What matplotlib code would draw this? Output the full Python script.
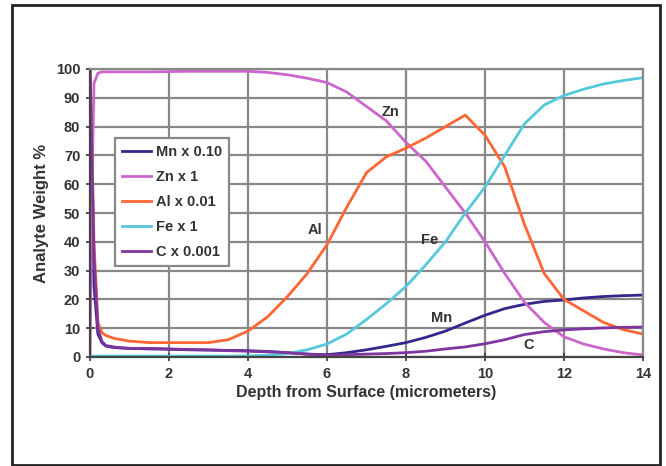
import numpy as np
import matplotlib
matplotlib.use('Agg')
import matplotlib.pyplot as plt
from matplotlib.patches import Rectangle

plt.rcParams['font.family'] = ['Liberation Sans', 'DejaVu Sans']
plt.rcParams['font.weight'] = 'bold'

# depth (micrometers)
depth = [0, 0.05, 0.1, 0.2, 0.3, 0.4, 0.6, 0.8, 1, 1.5, 2, 2.5, 3, 3.5, 4,
         4.5, 5, 5.5, 6, 6.5, 7, 7.5, 8, 8.5, 9, 9.5, 10, 10.5, 11, 11.5,
         12, 12.5, 13, 13.5, 14]

mn = [100, 60, 25, 8, 5, 3.8, 3.3, 3.1, 3, 2.8, 2.7, 2.5, 2.4, 2.3, 2.2,
      1.9, 1.5, 1, 0.8, 1.5, 2.5, 3.7, 5, 6.8, 9, 11.8, 14.5, 16.8, 18.3, 19.3,
      19.8, 20.5, 21, 21.3, 21.5]
zn = [0, 60, 95, 98.5, 99, 99, 99, 99, 99, 99, 99.1, 99.2, 99.2, 99.2, 99.2,
      98.8, 98, 96.8, 95.3, 92, 87, 82, 74.5, 68, 59, 50, 40, 29, 19, 12,
      7, 4.5, 2.8, 1.5, 0.7]
al = [100, 70, 40, 12, 8.5, 7.5, 6.5, 6, 5.5, 5, 5, 5, 5, 6, 9,
      14, 21, 29, 39, 52, 64, 69.5, 72.5, 76, 80, 84, 77, 66, 46, 29,
      20, 16, 12, 9.5, 8]
fe = [0.3, 0.3, 0.3, 0.3, 0.3, 0.3, 0.3, 0.3, 0.3, 0.3, 0.3, 0.3, 0.3, 0.3, 0.4,
      0.6, 1.2, 2.5, 4.5, 8, 13, 18.5, 24.5, 32, 40, 50, 59, 70, 81, 87.5,
      90.8, 93, 94.8, 96, 97]
c = [100, 70, 35, 10, 5.5, 4, 3.5, 3.2, 3, 3, 2.8, 2.6, 2.5, 2.2, 2,
     1.8, 1.5, 1, 0.6, 0.8, 1, 1.2, 1.5, 2, 2.8, 3.5, 4.6, 6, 7.8, 8.8,
     9.4, 9.8, 10.1, 10.3, 10.4]

series = [
    ('Mn x 0.10', mn, '#33288c'),
    ('Zn x 1', zn, '#cc66cc'),
    ('Al x 0.01', al, '#ff6633'),
    ('Fe x 1', fe, '#55c8dc'),
    ('C x 0.001', c, '#7f35a0'),
]

annotations = [('Zn', 7.6, 85), ('Al', 5.7, 44), ('Fe', 8.6, 40.5),
               ('Mn', 8.9, 13.5), ('C', 11.1, 4)]

txt = '#333333'

fig = plt.figure(figsize=(6.66, 4.66), dpi=100)
ax = fig.add_axes([90 / 666, 1 - 357 / 466, 553 / 666, 288 / 466])

for name, vals, col in series:
    ax.plot(depth, vals, color=col, lw=2, label=name)

for s, x, y in annotations:
    ax.text(x, y, s, fontsize=10.5, fontweight='bold', color=txt,
            ha='center', va='center')

ax.set_xlim(0, 14)
ax.set_ylim(0, 100)
ax.set_xticks(np.arange(0, 15, 2))
ax.set_yticks(np.arange(0, 101, 10))
ax.grid(True, color='#888888', lw=1.6)
ax.set_axisbelow(True)
ax.tick_params(direction='inout', length=6, width=1.2, color='#333333',
               labelsize=10.5, labelcolor=txt, pad=4)
for lab in ax.get_xticklabels() + ax.get_yticklabels():
    lab.set_fontweight('bold')
for sp in ['top', 'right']:
    ax.spines[sp].set_color('#888888')
    ax.spines[sp].set_linewidth(1.6)
for sp in ['left', 'bottom']:
    ax.spines[sp].set_color('#444444')
    ax.spines[sp].set_linewidth(1.6)

ax.set_xlabel('Depth from Surface (micrometers)', fontsize=11.5,
              fontweight='bold', color=txt, labelpad=3)
ax.set_ylabel('Analyte Weight %', fontsize=12, fontweight='bold',
              color=txt, labelpad=5)

leg = ax.legend(loc='upper left', bbox_to_anchor=(0.045, 0.76),
                fontsize=10.5, fancybox=False, framealpha=1,
                edgecolor='#888888', handlelength=2.0, handletextpad=0.3,
                labelspacing=0.75, borderaxespad=0, borderpad=0.5)
leg.get_frame().set_linewidth(1.6)
for t in leg.get_texts():
    t.set_color(txt)
    t.set_fontweight('bold')

fig.add_artist(Rectangle((12 / 666, 1 / 466), 648 / 666, 460 / 466,
                         transform=fig.transFigure, fill=False,
                         edgecolor='#222222', lw=2))

fig.savefig('out.png', dpi=100)
